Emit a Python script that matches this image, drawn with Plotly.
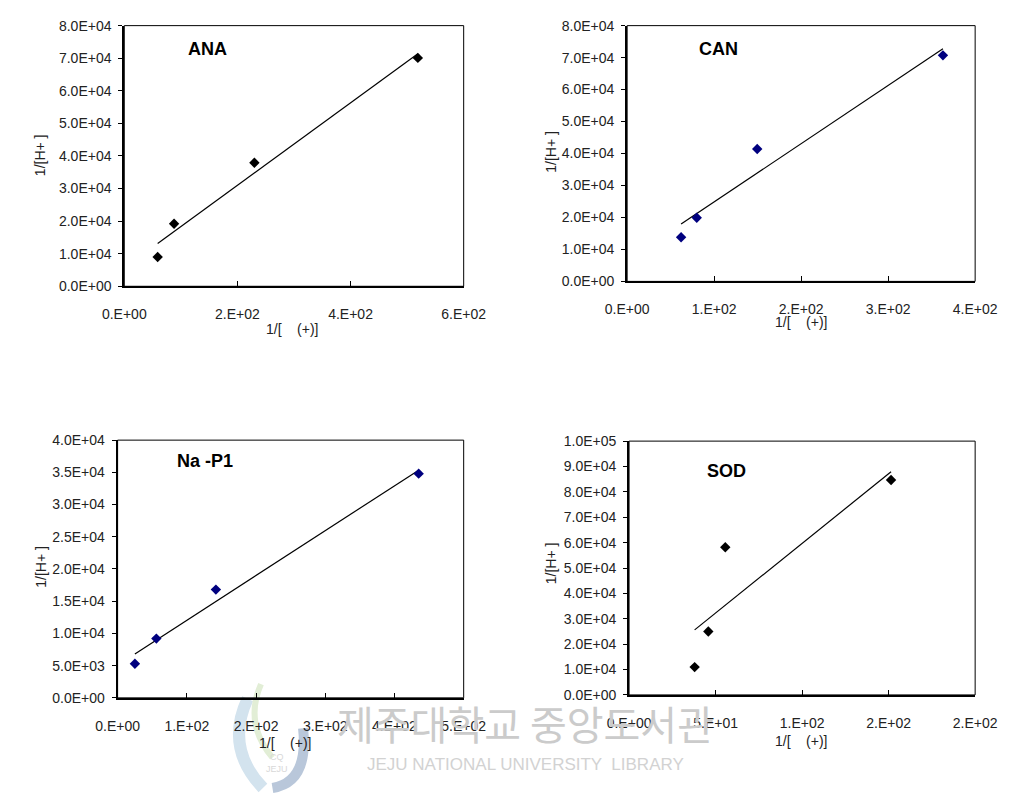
import numpy as np
import plotly.graph_objects as go

W, H = 1023, 796

# ---------------- data ----------------
ana_x = [59, 88, 230, 519]
ana_y = [9000, 19200, 37900, 70100]

can_x = [62, 80, 149.5, 363]
can_y = [13800, 19900, 41400, 70700]

nap_x = [25, 56, 142, 435]
nap_y = [5300, 9200, 16800, 34800]

sod_x = [37.9, 45.8, 55.6, 151.4]
sod_y = [10950, 25000, 58200, 84700]

panel_names = ["ANA", "CAN", "Na -P1", "SOD"]
marker_colors = ["#000000", "#00007f", "#00007f", "#000000"]

ana_xticks = [0, 200, 400, 600]
ana_xtext = ["0.E+00", "2.E+02", "4.E+02", "6.E+02"]
ana_yticks = [0, 10000, 20000, 30000, 40000, 50000, 60000, 70000, 80000]
ana_ytext = ["0.0E+00", "1.0E+04", "2.0E+04", "3.0E+04", "4.0E+04",
             "5.0E+04", "6.0E+04", "7.0E+04", "8.0E+04"]

can_xticks = [0, 100, 200, 300, 400]
can_xtext = ["0.E+00", "1.E+02", "2.E+02", "3.E+02", "4.E+02"]
can_yticks = ana_yticks
can_ytext = ana_ytext

nap_xticks = [0, 100, 200, 300, 400, 500]
nap_xtext = ["0.E+00", "1.E+02", "2.E+02", "3.E+02", "4.E+02", "5.E+02"]
nap_yticks = [0, 5000, 10000, 15000, 20000, 25000, 30000, 35000, 40000]
nap_ytext = ["0.0E+00", "5.0E+03", "1.0E+04", "1.5E+04", "2.0E+04",
             "2.5E+04", "3.0E+04", "3.5E+04", "4.0E+04"]

sod_xticks = [0, 50, 100, 150, 200]
sod_xtext = ["0.E+00", "5.E+01", "1.E+02", "2.E+02", "2.E+02"]
sod_yticks = [0, 10000, 20000, 30000, 40000, 50000, 60000, 70000, 80000, 90000, 100000]
sod_ytext = ["0.0E+00", "1.0E+04", "2.0E+04", "3.0E+04", "4.0E+04", "5.0E+04",
             "6.0E+04", "7.0E+04", "8.0E+04", "9.0E+04", "1.0E+05"]

x_title = "1/[    (+)]"
y_title = "1/[H+ ]"

# ---------------- layout geometry (pixels) ----------------
panels = [
    dict(x=ana_x, y=ana_y, xt=ana_xticks, xtt=ana_xtext, yt=ana_yticks, ytt=ana_ytext,
         xr=[0, 600], yr=[0, 80000], box=(107, 462, 18, 284),
         name_pos=(194, 42), xt_pos=(283, 328), yt_pos=(19, 150)),
    dict(x=can_x, y=can_y, xt=can_xticks, xtt=can_xtext, yt=can_yticks, ytt=can_ytext,
         xr=[0, 400], yr=[0, 80000], box=(633, 997, 18, 279),
         name_pos=(729, 42), xt_pos=(815, 320), yt_pos=(553, 147)),
    dict(x=nap_x, y=nap_y, xt=nap_xticks, xtt=nap_xtext, yt=nap_yticks, ytt=nap_ytext,
         xr=[0, 500], yr=[0, 40000], box=(100, 462, 441, 704),
         name_pos=(191, 462), xt_pos=(276, 750), yt_pos=(19, 570)),
    dict(x=sod_x, y=sod_y, xt=sod_xticks, xtt=sod_xtext, yt=sod_yticks, ytt=sod_ytext,
         xr=[0, 200], yr=[0, 100000], box=(635, 997, 442, 701),
         name_pos=(737, 472), xt_pos=(815, 748), yt_pos=(553, 567)),
]

fig = go.Figure()
font = "Liberation Sans, Arial, sans-serif"
annotations = []
shapes = []

# watermark logo (faint, behind everything)
def arc(p0, c, p1, color, width):
    return dict(type="path", xref="paper", yref="paper", layer="below",
                path="M %f %f Q %f %f %f %f" % (p0[0] / W, 1 - p0[1] / H, c[0] / W, 1 - c[1] / H,
                                                p1[0] / W, 1 - p1[1] / H),
                line=dict(color=color, width=width))

shapes.append(arc((236, 705), (212, 755), (252, 796), "#d3e3ee", 12))
shapes.append(arc((250, 690), (232, 730), (262, 765), "#e2eed6", 6))
shapes.append(arc((294, 735), (300, 790), (262, 796), "#b9c7da", 10))

for i, p in enumerate(panels):
    k = "" if i == 0 else str(i + 1)
    xa, ya = "x" + k, "y" + k
    x0, x1, y0, y1 = p["box"]
    # linear trend line (least squares)
    xs = np.array(p["x"], dtype=float)
    ys = np.array(p["y"], dtype=float)
    m, b = np.polyfit(xs, ys, 1)
    lx = np.array([xs.min(), xs.max()])
    fig.add_trace(go.Scatter(x=lx, y=m * lx + b, mode="lines",
                             line=dict(color="black", width=1.2),
                             xaxis=xa, yaxis=ya, showlegend=False, hoverinfo="skip"))
    fig.add_trace(go.Scatter(x=p["x"], y=p["y"], mode="markers",
                             marker=dict(symbol="diamond", size=8, color=marker_colors[i],
                                         line=dict(width=0)),
                             xaxis=xa, yaxis=ya, showlegend=False))
    axis_common = dict(showgrid=False, zeroline=False, showline=True, linecolor="black",
                       linewidth=2, tickfont=dict(family=font, size=14, color="#222"),
                       tickcolor="black", tickwidth=1)
    fig.layout["xaxis" + k] = dict(domain=[x0 / W, x1 / W], range=p["xr"], anchor=ya,
                                   tickmode="array", tickvals=p["xt"], ticktext=p["xtt"],
                                   ticks="inside", ticklen=5, ticklabelstandoff=14,
                                   **axis_common)
    fig.layout["yaxis" + k] = dict(domain=[1 - y1 / H, 1 - y0 / H], range=p["yr"], anchor=xa,
                                   tickmode="array", tickvals=p["yt"], ticktext=p["ytt"],
                                   ticks="outside", ticklen=4, ticklabelstandoff=4,
                                   **axis_common)
    # thin box around plot area
    shapes.append(dict(type="rect", xref=xa + " domain", yref=ya + " domain",
                       x0=0, x1=1, y0=0, y1=1, line=dict(color="black", width=1),
                       layer="above"))
    annotations.append(dict(text="<b>" + panel_names[i] + "</b>", xref="paper", yref="paper",
                            x=p["name_pos"][0] / W, y=1 - p["name_pos"][1] / H,
                            showarrow=False, font=dict(family=font, size=18, color="black"),
                            xanchor="center", yanchor="middle"))
    annotations.append(dict(text=x_title, xref="paper", yref="paper",
                            x=p["xt_pos"][0] / W, y=1 - p["xt_pos"][1] / H,
                            showarrow=False, font=dict(family=font, size=14, color="#222"),
                            xanchor="center", yanchor="middle"))
    annotations.append(dict(text=y_title, xref="paper", yref="paper", textangle=-90,
                            x=p["yt_pos"][0] / W, y=1 - p["yt_pos"][1] / H,
                            showarrow=False, font=dict(family=font, size=14, color="#222"),
                            xanchor="center", yanchor="middle"))

# watermark text
annotations.append(dict(text="제주대학교 중앙도서관", xref="paper", yref="paper",
                        x=527 / W, y=1 - 730 / H, showarrow=False,
                        font=dict(family="Noto Sans CJK KR", size=40, color="#cbcbcb"),
                        xanchor="center", yanchor="middle"))
annotations.append(dict(text="JEJU NATIONAL UNIVERSITY  LIBRARY", xref="paper", yref="paper",
                        x=527 / W, y=1 - 772 / H, showarrow=False,
                        font=dict(family="Liberation Sans, Arial", size=17, color="#d2d2d2"),
                        xanchor="center", yanchor="middle"))
annotations.append(dict(text="CQ<br>JEJU", xref="paper", yref="paper",
                        x=267 / W, y=1 - 770 / H, showarrow=False,
                        font=dict(family="Liberation Sans, Arial", size=9, color="#d8d8d8"),
                        xanchor="center", yanchor="middle"))

fig.update_layout(width=W, height=H, margin=dict(l=0, r=0, t=0, b=0),
                  paper_bgcolor="white", plot_bgcolor="white",
                  annotations=annotations, shapes=shapes, showlegend=False)

fig.write_html("out.html")
